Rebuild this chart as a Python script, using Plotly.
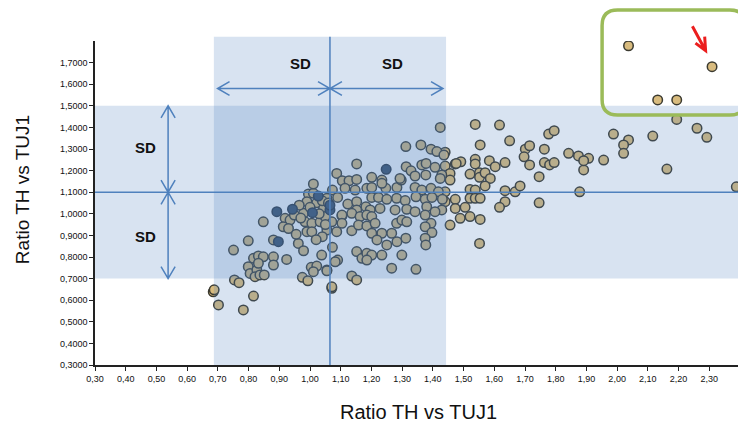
import plotly.graph_objects as go

# ---------------- data ----------------
pts_x = [
    2.037, 2.309, 2.132, 2.194, 2.194, 2.260, 2.292, 1.988, 2.037, 2.021, 2.021, 2.116, 2.162, 2.388,
    1.842, 1.874, 1.907, 1.891, 1.956, 1.878, 1.891,
    1.538, 1.617, 1.650, 1.554, 1.701, 1.715, 1.697, 1.763, 1.777, 1.795, 1.715, 1.763, 1.780, 1.795,
    1.746, 1.746, 1.440, 1.440, 1.473, 1.491, 1.538, 1.538, 1.584, 1.603, 1.635, 1.521, 1.552, 1.552,
    1.570, 1.587, 1.570, 1.456, 1.456, 1.429, 1.521, 1.538, 1.521, 1.538, 1.554, 1.635, 1.668, 1.684,
    1.635, 1.617, 1.473, 1.473, 1.505, 1.521, 1.489, 1.554, 1.456, 1.552, 1.440, 1.440, 1.429, 1.424,
    1.312, 1.361, 1.394, 1.413, 1.152, 1.313, 1.329, 1.364, 1.378, 1.407, 1.342, 1.377, 1.424, 1.087,
    1.105, 1.127, 1.152, 1.201, 1.234, 1.283, 1.297, 1.114, 1.147, 1.185, 1.201, 1.247, 1.342, 1.364,
    1.394, 1.418, 1.073, 1.055, 1.090, 1.123, 1.152, 1.182, 1.201, 1.223, 1.250, 1.282, 1.310, 1.345,
    1.375, 1.397, 1.431, 1.152, 1.196, 1.228, 1.277, 1.315, 1.342, 1.380, 1.407, 1.104, 1.476, 1.234,
    1.293, 1.436,
    1.136, 1.163, 1.185, 1.201, 1.104, 1.104, 1.071, 1.055, 1.087, 1.136, 1.158, 1.185, 1.212, 1.201,
    1.234, 1.218, 1.266, 1.282, 1.299, 1.315, 1.312, 1.283, 1.250, 1.375, 1.394, 1.375, 1.397, 1.375,
    1.377, 1.152, 1.169, 1.185, 1.201, 1.185, 1.234, 1.299, 1.266, 1.345, 1.073, 1.090, 1.082, 1.055,
    1.136, 1.152, 1.071,
    0.685, 0.688, 0.702, 0.783, 0.816, 0.754, 0.769, 0.751, 0.799, 0.848, 0.919, 0.935, 0.913, 0.930,
    0.949, 0.979, 0.995, 1.011, 0.990, 1.022, 1.044, 0.984, 1.006, 0.990, 1.006, 1.033, 1.049, 1.040,
    0.881, 0.962, 0.979, 0.816, 0.832, 0.848, 0.881, 0.881, 0.924, 0.799, 0.805, 0.827, 0.821, 0.837,
    0.851, 0.832, 1.004, 1.022, 1.038, 1.011, 1.055, 0.975, 0.993, 1.011, 1.071,
    1.000, 1.040, 0.965, 1.030, 1.060, 0.970, 1.050, 1.020, 0.955,
]
pts_y = [
    1.778, 1.681, 1.527, 1.527, 1.437, 1.396, 1.354, 1.369, 1.342, 1.319, 1.280, 1.360, 1.207, 1.125,
    1.280, 1.268, 1.257, 1.203, 1.249, 1.102, 1.246,
    1.414, 1.411, 1.338, 1.319, 1.299, 1.315, 1.264, 1.299, 1.369, 1.385, 1.226, 1.237, 1.226, 1.237,
    1.172, 1.051, 1.285, 1.221, 1.231, 1.241, 1.252, 1.231, 1.246, 1.218, 1.237, 1.184, 1.190, 1.169,
    1.190, 1.164, 1.129, 1.187, 1.156, 1.180, 1.113, 1.110, 1.072, 1.072, 1.072, 1.107, 1.102, 1.129,
    1.056, 1.030, 1.067, 1.025, 1.030, 0.987, 0.979, 0.974, 0.948, 0.863, 1.102, 1.056, 1.018, 1.400,
    1.311, 1.319, 1.299, 1.288, 1.231, 1.218, 1.199, 1.226, 1.233, 1.215, 1.175, 1.180, 1.164, 1.187,
    1.153, 1.153, 1.159, 1.169, 1.156, 1.122, 1.156, 1.118, 1.110, 1.118, 1.122, 1.118, 1.122, 1.110,
    1.118, 1.102, 1.110, 1.072, 1.076, 1.045, 1.056, 1.033, 1.076, 1.076, 1.067, 1.072, 1.061, 1.079,
    1.067, 1.076, 1.067, 1.018, 1.018, 1.025, 1.018, 1.021, 1.010, 1.033, 1.010, 0.990, 1.233, 1.141,
    1.164, 1.272,
    1.002, 0.987, 0.994, 0.987, 0.994, 0.956, 0.963, 0.925, 0.917, 0.922, 0.948, 0.944, 0.956, 0.910,
    0.910, 0.879, 0.910, 0.956, 0.971, 0.963, 0.887, 0.871, 0.856, 0.994, 0.956, 0.940, 0.913, 0.887,
    0.856, 0.825, 0.794, 0.817, 0.809, 0.786, 0.809, 0.809, 0.748, 0.743, 0.845, 0.786, 0.778, 0.740,
    0.712, 0.694, 0.655,
    0.639, 0.648, 0.578, 0.555, 0.619, 0.694, 0.681, 0.832, 0.875, 0.963, 0.979, 0.971, 0.940, 0.932,
    0.994, 1.002, 1.092, 1.095, 1.056, 1.051, 1.025, 0.963, 0.956, 0.917, 0.917, 0.963, 0.987, 0.894,
    0.879, 0.863, 0.829, 0.794, 0.805, 0.801, 0.801, 0.763, 0.789, 0.755, 0.724, 0.740, 0.709, 0.717,
    0.717, 0.771, 0.752, 0.758, 0.809, 0.732, 0.736, 0.706, 0.690, 1.138, 0.662,
    1.030, 1.060, 1.040, 1.000, 1.050, 0.980, 0.950, 0.880, 0.905,
]
dark_x = [0.892, 0.943, 1.008, 1.027, 0.897, 1.065, 1.248, 1.065]
dark_y = [1.010, 1.021, 1.005, 1.082, 0.871, 1.018, 1.206, 1.040]

mean_x, sd_x = 1.065, 0.378
mean_y, sd_y = 1.10, 0.40

x_tick_vals = [0.3, 0.4, 0.5, 0.6, 0.7, 0.8, 0.9, 1.0, 1.1, 1.2, 1.3, 1.4, 1.5, 1.6, 1.7, 1.8,
               1.9, 2.0, 2.1, 2.2, 2.3]
x_tick_text = ["0,30", "0,40", "0,50", "0,60", "0,70", "0,80", "0,90", "1,00", "1,10", "1,20",
               "1,30", "1,40", "1,50", "1,60", "1,70", "1,80", "1,90", "2,00", "2,10", "2,20", "2,30"]
y_tick_vals = [0.3, 0.4, 0.5, 0.6, 0.7, 0.8, 0.9, 1.0, 1.1, 1.2, 1.3, 1.4, 1.5, 1.6, 1.7]
y_tick_text = ["0,3000", "0,4000", "0,5000", "0,6000", "0,7000", "0,8000", "0,9000", "1,0000",
               "1,1000", "1,2000", "1,3000", "1,4000", "1,5000", "1,6000", "1,7000"]

axis_title = "Ratio TH vs TUJ1"

# ---------------- layout helpers ----------------
X_RANGE = [0.3, 2.40]
Y_RANGE = [0.3, 1.80]


def px_(x):
    return (x - X_RANGE[0]) / (X_RANGE[1] - X_RANGE[0])


def py_(y):
    return (y - Y_RANGE[0]) / (Y_RANGE[1] - Y_RANGE[0])


BLUE = "rgb(79,129,189)"
BAND = "rgba(79,129,189,0.22)"
band_top = 1.82

fig = go.Figure()
fig.add_trace(go.Scatter(
    x=pts_x, y=pts_y, mode="markers",
    marker=dict(size=9.5, color="#d8bb7e", line=dict(color="#3b3a30", width=1.5)),
    hoverinfo="x+y", showlegend=False))
fig.add_trace(go.Scatter(
    x=dark_x, y=dark_y, mode="markers",
    marker=dict(size=9.5, color="#3a4f66", line=dict(color="#2a3440", width=1.5)),
    hoverinfo="x+y", showlegend=False))

shapes = []
# vertical SD band
shapes.append(dict(type="rect", xref="paper", yref="paper",
                   x0=px_(mean_x - sd_x), x1=px_(mean_x + sd_x), y0=0, y1=py_(band_top),
                   fillcolor=BAND, line=dict(width=0), layer="above"))
# horizontal SD band
shapes.append(dict(type="rect", xref="paper", yref="paper",
                   x0=0, x1=1, y0=py_(mean_y - sd_y), y1=py_(mean_y + sd_y),
                   fillcolor=BAND, line=dict(width=0), layer="above"))
# mean lines
shapes.append(dict(type="line", xref="paper", yref="paper",
                   x0=px_(mean_x), x1=px_(mean_x), y0=0, y1=py_(band_top),
                   line=dict(color=BLUE, width=1.5), layer="above"))
shapes.append(dict(type="line", xref="paper", yref="paper",
                   x0=0, x1=1, y0=py_(mean_y), y1=py_(mean_y),
                   line=dict(color=BLUE, width=1.5), layer="above"))

# horizontal double arrows
arr_y = 1.58
hx_len, hy_w = 0.039, 0.032


def h_arrow(xa, xb, y):
    p = f"M{px_(xa)},{py_(y)} L{px_(xb)},{py_(y)} "
    p += f"M{px_(xa + hx_len)},{py_(y + hy_w)} L{px_(xa)},{py_(y)} L{px_(xa + hx_len)},{py_(y - hy_w)} "
    p += f"M{px_(xb - hx_len)},{py_(y + hy_w)} L{px_(xb)},{py_(y)} L{px_(xb - hx_len)},{py_(y - hy_w)}"
    return dict(type="path", xref="paper", yref="paper", path=p,
                line=dict(color=BLUE, width=1.5), layer="above")


shapes.append(h_arrow(mean_x - sd_x + 0.012, mean_x, arr_y))
shapes.append(h_arrow(mean_x, mean_x + sd_x - 0.01, arr_y))

# vertical double arrows
arr_x = 0.538
vy_len, vx_w = 0.056, 0.023


def v_arrow(ya, yb, x):
    p = f"M{px_(x)},{py_(ya)} L{px_(x)},{py_(yb)} "
    p += f"M{px_(x - vx_w)},{py_(ya + vy_len)} L{px_(x)},{py_(ya)} L{px_(x + vx_w)},{py_(ya + vy_len)} "
    p += f"M{px_(x - vx_w)},{py_(yb - vy_len)} L{px_(x)},{py_(yb)} L{px_(x + vx_w)},{py_(yb - vy_len)}"
    return dict(type="path", xref="paper", yref="paper", path=p,
                line=dict(color=BLUE, width=1.5), layer="above")


shapes.append(v_arrow(mean_y - sd_y, mean_y, arr_x))
shapes.append(v_arrow(mean_y, mean_y + sd_y, arr_x))

# green rounded highlight box
gx0, gx1, gy0, gy1 = px_(1.951), px_(2.417), py_(1.457), py_(1.944)
rx, ry = 0.024, 0.048
gpath = (f"M{gx0 + rx},{gy0} L{gx1 - rx},{gy0} Q{gx1},{gy0} {gx1},{gy0 + ry} "
         f"L{gx1},{gy1 - ry} Q{gx1},{gy1} {gx1 - rx},{gy1} "
         f"L{gx0 + rx},{gy1} Q{gx0},{gy1} {gx0},{gy1 - ry} "
         f"L{gx0},{gy0 + ry} Q{gx0},{gy0} {gx0 + rx},{gy0} Z")
shapes.append(dict(type="path", xref="paper", yref="paper", path=gpath,
                   line=dict(color="rgb(155,187,89)", width=3.5), layer="above"))

# red pointer arrow
tip = (2.288, 1.755)
tail = (2.245, 1.868)
rpath = (f"M{px_(tail[0])},{py_(tail[1])} L{px_(tip[0])},{py_(tip[1])} "
         f"M{px_(2.285)},{py_(1.820)} L{px_(tip[0])},{py_(tip[1])} L{px_(2.255)},{py_(1.790)}")
shapes.append(dict(type="path", xref="paper", yref="paper", path=rpath,
                   line=dict(color="rgb(235,30,30)", width=3), layer="above"))

annotations = []
for (ax_, ay_) in [(0.968, 1.698), (1.27, 1.698), (0.463, 1.305), (0.463, 0.893)]:
    annotations.append(dict(x=ax_, y=ay_, xref="x", yref="y", text="<b>SD</b>", showarrow=False,
                            xanchor="center", yanchor="middle",
                            font=dict(size=15, color="#111", family="Liberation Sans, Arial")))
annotations.append(dict(x=0.501, y=-0.145, xref="paper", yref="paper", text=axis_title,
                        xanchor="center", yanchor="middle",
                        showarrow=False, font=dict(size=20, color="#111",
                                                   family="Liberation Sans, Arial")))
annotations.append(dict(x=-0.113, y=0.54, xref="paper", yref="paper", text=axis_title,
                        textangle=-90, showarrow=False, xanchor="center", yanchor="middle",
                        font=dict(size=19, color="#111", family="Liberation Sans, Arial")))

tick_font = dict(size=9, color="#111", family="Liberation Sans Narrow, Liberation Sans, Arial")

# the page body adds an 8px offset, so the figure is sized to fit the window
fig.update_layout(
    width=738, height=419,
    margin=dict(l=87, r=6, t=33, b=62),
    paper_bgcolor="white", plot_bgcolor="white",
    shapes=shapes, annotations=annotations,
    xaxis=dict(range=X_RANGE, tickvals=x_tick_vals, ticktext=x_tick_text, showgrid=False,
               zeroline=False, showline=True, linecolor="#222", linewidth=1.5,
               ticks="outside", ticklen=4, tickcolor="#222", tickfont=tick_font),
    yaxis=dict(range=Y_RANGE, tickvals=y_tick_vals, ticktext=y_tick_text, showgrid=False,
               zeroline=False, showline=True, linecolor="#222", linewidth=1.5,
               ticks="outside", ticklen=4, tickcolor="#222", tickfont=tick_font),
    showlegend=False,
)

fig.write_html("out.html")
